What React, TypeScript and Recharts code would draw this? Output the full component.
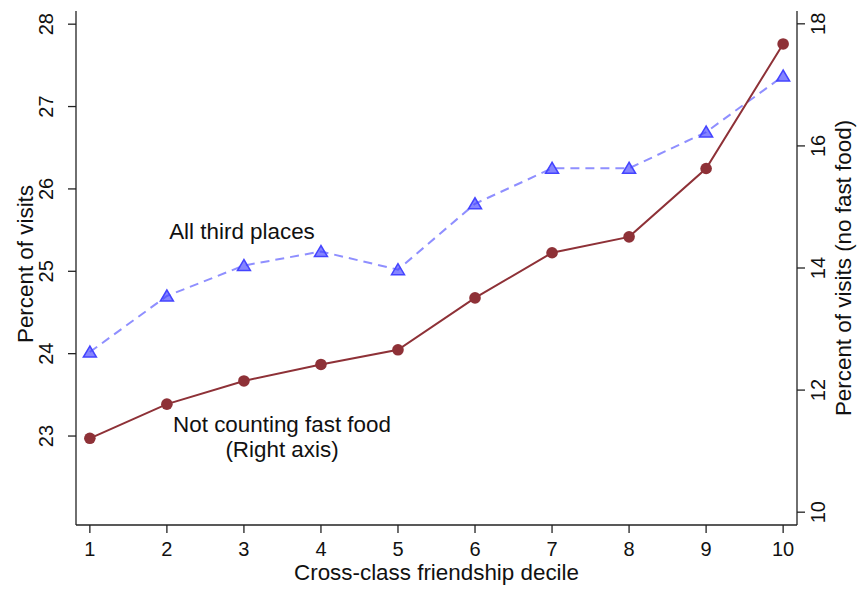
import React from "react";
import { Label, Line, LineChart, XAxis, YAxis } from "recharts";

// values
const deciles = [1, 2, 3, 4, 5, 6, 7, 8, 9, 10];
const allThirdPlaces = [24.02, 24.7, 25.07, 25.24, 25.02, 25.82, 26.25, 26.25, 26.69, 27.37];
const noFastFood = [11.21, 11.77, 12.15, 12.42, 12.66, 13.51, 14.25, 14.51, 15.63, 17.67];

const leftTicks = [23, 24, 25, 26, 27, 28];
const rightTicks = [10, 12, 14, 16, 18];

const data = deciles.map((d, i) => ({
  decile: d,
  all: allThirdPlaces[i],
  noFast: noFastFood[i],
}));

const FONT = "'Liberation Sans', Arial, Helvetica, sans-serif";
const AXIS = "#222";
const BLUE_LINE = "#8f8fff";
const BLUE_MARK = "#4444ff";
const RED = "#8e3137";
const TICK_FONT = 20;

const Triangle = (props: any) => {
  const { cx, cy, index } = props;
  if (cx == null || cy == null) return null;
  const pts = `${cx},${cy - 6} ${cx - 6.5},${cy + 5} ${cx + 6.5},${cy + 5}`;
  return (
    <polygon
      key={`tri-${index}`}
      points={pts}
      fill={BLUE_MARK}
      fillOpacity={0.65}
      stroke={BLUE_MARK}
      strokeWidth={1.5}
    />
  );
};

const Circle = (props: any) => {
  const { cx, cy, index } = props;
  if (cx == null || cy == null) return null;
  return <circle key={`c-${index}`} cx={cx} cy={cy} r={5.8} fill={RED} />;
};

const LeftTick = (props: any) => {
  const { x, y, payload } = props;
  const tx = x - 22;
  return (
    <text
      x={tx}
      y={y}
      dy="0.36em"
      transform={`rotate(-90, ${tx}, ${y})`}
      textAnchor="middle"
      fontSize={TICK_FONT}
      fontFamily={FONT}
      fill="#111"
    >
      {payload.value}
    </text>
  );
};

const RightTick = (props: any) => {
  const { x, y, payload } = props;
  const tx = x + 13;
  return (
    <text
      x={tx}
      y={y}
      dy="0.36em"
      transform={`rotate(-90, ${tx}, ${y})`}
      textAnchor="middle"
      fontSize={TICK_FONT}
      fontFamily={FONT}
      fill="#111"
    >
      {payload.value}
    </text>
  );
};

const BottomTick = (props: any) => {
  const { x, y, payload } = props;
  return (
    <text x={x} y={y + 23} textAnchor="middle" fontSize={TICK_FONT} fontFamily={FONT} fill="#111">
      {payload.value}
    </text>
  );
};

const SideTitle = (props: any) => {
  const { viewBox, value, side } = props;
  const cx = side === "left" ? viewBox.x + 25 : viewBox.x + 46;
  const cy = viewBox.y + viewBox.height / 2 + (side === "left" ? -4 : 0);
  return (
    <text
      x={cx}
      y={cy}
      dy="0.36em"
      transform={`rotate(-90, ${cx}, ${cy})`}
      textAnchor="middle"
      fontSize={22.4}
      fontFamily={FONT}
      fill="#111"
    >
      {value}
    </text>
  );
};

const BottomTitle = (props: any) => {
  const { viewBox, value } = props;
  return (
    <text
      x={viewBox.x + viewBox.width / 2}
      y={viewBox.y + 55}
      textAnchor="middle"
      fontSize={22.4}
      fontFamily={FONT}
      fill="#111"
    >
      {value}
    </text>
  );
};

export default function App() {
  return (
    <div style={{ position: "absolute", left: 0, top: 0, width: 861, height: 589, background: "#fff" }}>
      <LineChart
        width={861}
        height={589}
        data={data}
        margin={{ top: 11, right: 0, bottom: 0, left: 0 }}
      >
        <XAxis
          dataKey="decile"
          type="number"
          domain={[0.82, 10.18]}
          ticks={deciles}
          allowDataOverflow
          height={64}
          tickSize={8}
          tickMargin={0}
          stroke={AXIS}
          strokeWidth={1.3}
          tick={<BottomTick />}
          tickLine={{ stroke: AXIS, strokeWidth: 1.3 }}
        >
          <Label value="Cross-class friendship decile" content={<BottomTitle />} />
        </XAxis>
        <YAxis
          yAxisId="left"
          orientation="left"
          domain={[21.92, 28.16]}
          ticks={leftTicks}
          allowDataOverflow
          width={76}
          tickSize={8}
          tickMargin={0}
          stroke={AXIS}
          strokeWidth={1.3}
          tick={<LeftTick />}
          tickLine={{ stroke: AXIS, strokeWidth: 1.3 }}
        >
          <Label value="Percent of visits" content={<SideTitle side="left" />} />
        </YAxis>
        <YAxis
          yAxisId="right"
          orientation="right"
          domain={[9.79, 18.21]}
          ticks={rightTicks}
          allowDataOverflow
          width={64}
          tickSize={8}
          tickMargin={0}
          stroke={AXIS}
          strokeWidth={1.3}
          tick={<RightTick />}
          tickLine={{ stroke: AXIS, strokeWidth: 1.3 }}
        >
          <Label value="Percent of visits (no fast food)" content={<SideTitle side="right" />} />
        </YAxis>
        <Line
          yAxisId="left"
          dataKey="all"
          type="linear"
          stroke={BLUE_LINE}
          strokeWidth={2}
          strokeDasharray="9 6"
          dot={<Triangle />}
          activeDot={false}
          isAnimationActive={false}
        />
        <Line
          yAxisId="right"
          dataKey="noFast"
          type="linear"
          stroke={RED}
          strokeWidth={2}
          dot={<Circle />}
          activeDot={false}
          isAnimationActive={false}
        />
      </LineChart>
      <svg
        width={861}
        height={589}
        style={{ position: "absolute", left: 0, top: 0, pointerEvents: "none" }}
      >
        <text x={242} y={239} textAnchor="middle" fontSize={22.4} fontFamily={FONT} fill="#111">
          All third places
        </text>
        <text x={282} y={432} textAnchor="middle" fontSize={22.4} fontFamily={FONT} fill="#111">
          Not counting fast food
        </text>
        <text x={282} y={457} textAnchor="middle" fontSize={22.4} fontFamily={FONT} fill="#111">
          (Right axis)
        </text>
      </svg>
    </div>
  );
}
